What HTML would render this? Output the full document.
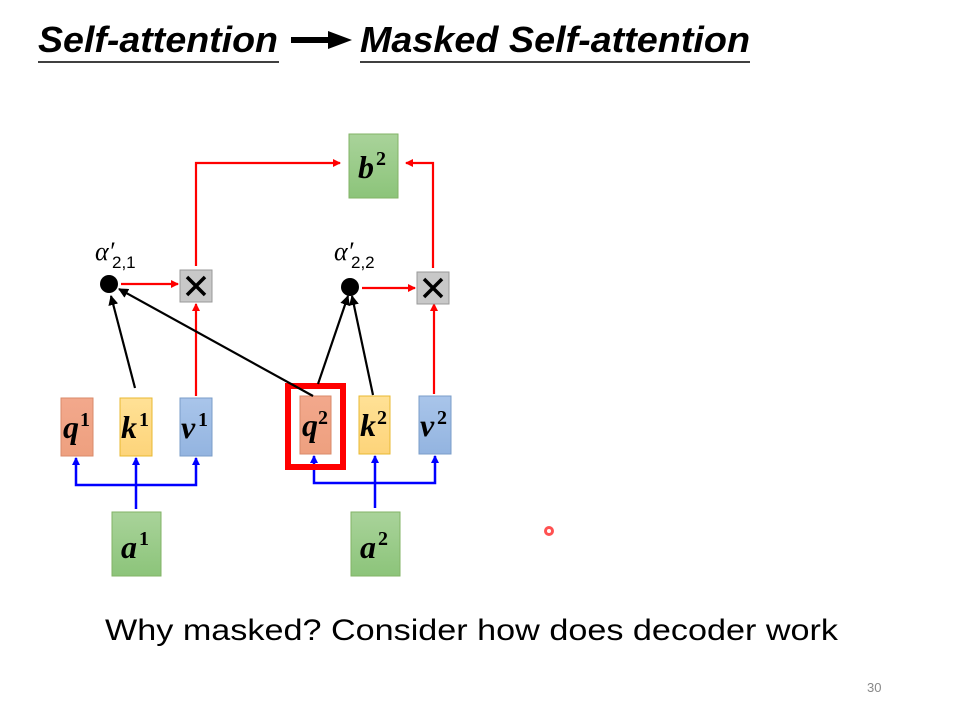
<!DOCTYPE html>
<html><head><meta charset="utf-8"><style>
html,body{margin:0;padding:0;background:#fff;}
svg{display:block;}
.m{font-family:"Liberation Serif",serif;font-weight:bold;font-style:italic;}
.s{font-family:"Liberation Serif",serif;font-weight:bold;font-style:normal;}
</style></head><body>
<svg width="960" height="720" viewBox="0 0 960 720" xmlns="http://www.w3.org/2000/svg">
<defs>
<marker id="ar" markerWidth="8" markerHeight="8" refX="7" refY="4" orient="auto" markerUnits="userSpaceOnUse"><path d="M0,0 L8,4 L0,8 z" fill="#f00"/></marker>
<marker id="ab" markerWidth="8" markerHeight="8" refX="7" refY="4" orient="auto" markerUnits="userSpaceOnUse"><path d="M0,0 L8,4 L0,8 z" fill="#00f"/></marker>
<marker id="ak" markerWidth="10" markerHeight="10" refX="9" refY="5" orient="auto" markerUnits="userSpaceOnUse"><path d="M0,0 L10,5 L0,10 z" fill="#000"/></marker>
<linearGradient id="g" x1="0" y1="0" x2="0" y2="1"><stop offset="0" stop-color="#a9d39a"/><stop offset="1" stop-color="#8cc47a"/></linearGradient>
<linearGradient id="o" x1="0" y1="0" x2="0" y2="1"><stop offset="0" stop-color="#f2a88c"/><stop offset="1" stop-color="#eea07f"/></linearGradient>
<linearGradient id="y" x1="0" y1="0" x2="0" y2="1"><stop offset="0" stop-color="#ffe196"/><stop offset="1" stop-color="#fdd47a"/></linearGradient>
<linearGradient id="b" x1="0" y1="0" x2="0" y2="1"><stop offset="0" stop-color="#a9c5ea"/><stop offset="1" stop-color="#93b4e0"/></linearGradient>
</defs>
<g font-family="Liberation Sans, sans-serif" font-weight="bold" font-style="italic" font-size="36">
<text x="38" y="52" textLength="240" lengthAdjust="spacingAndGlyphs">Self-attention</text>
<text x="360" y="52" textLength="390" lengthAdjust="spacingAndGlyphs">Masked Self-attention</text>
</g>
<line x1="38" y1="62" x2="279" y2="62" stroke="#000" stroke-width="1.5"/>
<line x1="360" y1="62" x2="750" y2="62" stroke="#000" stroke-width="1.5"/>
<path d="M291,37 H328 V31 L352,40 L328,49 V43 H291 z" fill="#000"/>

<g stroke="#f00" stroke-width="2.2" fill="none">
<path d="M196,266 V163 H340" marker-end="url(#ar)"/>
<path d="M433,268 V163 H406" marker-end="url(#ar)"/>
<line x1="121" y1="284" x2="178" y2="284" marker-end="url(#ar)"/>
<line x1="362" y1="288" x2="415" y2="288" marker-end="url(#ar)"/>
<line x1="196" y1="396" x2="196" y2="304" marker-end="url(#ar)"/>
<line x1="434" y1="394" x2="434" y2="304" marker-end="url(#ar)"/>
</g>
<g stroke="#00f" stroke-width="2.5" fill="none">
<line x1="136" y1="509" x2="136" y2="458" marker-end="url(#ab)"/>
<path d="M136,485 H76 V458" marker-end="url(#ab)"/>
<path d="M136,485 H196 V458" marker-end="url(#ab)"/>
<line x1="375" y1="508" x2="375" y2="456" marker-end="url(#ab)"/>
<path d="M375,483 H314 V456" marker-end="url(#ab)"/>
<path d="M375,483 H435 V456" marker-end="url(#ab)"/>
</g>
<g stroke-width="1">
<rect x="349" y="134" width="49" height="64" fill="url(#g)" stroke="#82b366"/>
<rect x="112" y="512" width="49" height="64" fill="url(#g)" stroke="#82b366"/>
<rect x="351" y="512" width="49" height="64" fill="url(#g)" stroke="#82b366"/>
<rect x="61" y="398" width="32" height="58" fill="url(#o)" stroke="#d98a6a"/>
<rect x="120" y="398" width="32" height="58" fill="url(#y)" stroke="#e8b830"/>
<rect x="180" y="398" width="32" height="58" fill="url(#b)" stroke="#7a9cc8"/>
<rect x="300" y="396" width="31" height="58" fill="url(#o)" stroke="#d98a6a"/>
<rect x="359" y="396" width="31" height="58" fill="url(#y)" stroke="#e8b830"/>
<rect x="419" y="396" width="32" height="58" fill="url(#b)" stroke="#7a9cc8"/>
<rect x="180" y="270" width="32" height="32" fill="#c8c8c8" stroke="#999"/>
<rect x="417" y="272" width="32" height="32" fill="#c8c8c8" stroke="#999"/>
</g>
<rect x="288" y="386" width="55" height="81" fill="none" stroke="#f00" stroke-width="6"/>
<g stroke="#000" stroke-width="3.5">
<path d="M187,277 L205,295 M205,277 L187,295"/>
<path d="M424,279 L442,297 M442,279 L424,297"/>
</g>
<g stroke="#000" stroke-width="2.2">
<line x1="135" y1="388" x2="111" y2="296" marker-end="url(#ak)"/>
<line x1="313" y1="396" x2="119" y2="289" marker-end="url(#ak)"/>
<line x1="318" y1="384" x2="348" y2="296" marker-end="url(#ak)"/>
<line x1="373" y1="395" x2="352" y2="296" marker-end="url(#ak)"/>
</g>
<circle cx="109" cy="284" r="9" fill="#000"/>
<circle cx="350" cy="287" r="9" fill="#000"/>
<g font-family="Liberation Serif, serif" font-style="italic" font-size="26">
<text x="95" y="260">α′</text><text x="334" y="260">α′</text>
</g>
<g font-family="Liberation Sans, sans-serif" font-size="17">
<text x="112" y="268">2,1</text><text x="351" y="268">2,2</text>
</g>
<g font-size="32">
<text class="m" x="358" y="178">b</text><text class="s" x="376" y="165" font-size="20">2</text>
<text class="m" x="121" y="558">a</text><text class="s" x="139" y="545" font-size="20">1</text>
<text class="m" x="360" y="558">a</text><text class="s" x="378" y="545" font-size="20">2</text>
<text class="m" x="63" y="438">q</text><text class="s" x="80" y="426" font-size="20">1</text>
<text class="m" x="121" y="438">k</text><text class="s" x="139" y="426" font-size="20">1</text>
<text class="m" x="181" y="438">v</text><text class="s" x="198" y="426" font-size="20">1</text>
<text class="m" x="302" y="436">q</text><text class="s" x="318" y="424" font-size="20">2</text>
<text class="m" x="360" y="436">k</text><text class="s" x="377" y="424" font-size="20">2</text>
<text class="m" x="420" y="436">v</text><text class="s" x="437" y="424" font-size="20">2</text>
</g>
<circle cx="549" cy="531" r="5" fill="#f33" opacity="0.85"/>
<circle cx="549" cy="531" r="2" fill="#fff"/>
<text x="105" y="640" font-family="Liberation Sans, sans-serif" font-size="30" textLength="733" lengthAdjust="spacingAndGlyphs">Why masked?  Consider how does decoder work</text>
<text x="867" y="692" font-family="Liberation Sans, sans-serif" font-size="13" fill="#888">30</text>
</svg>
</body></html>
